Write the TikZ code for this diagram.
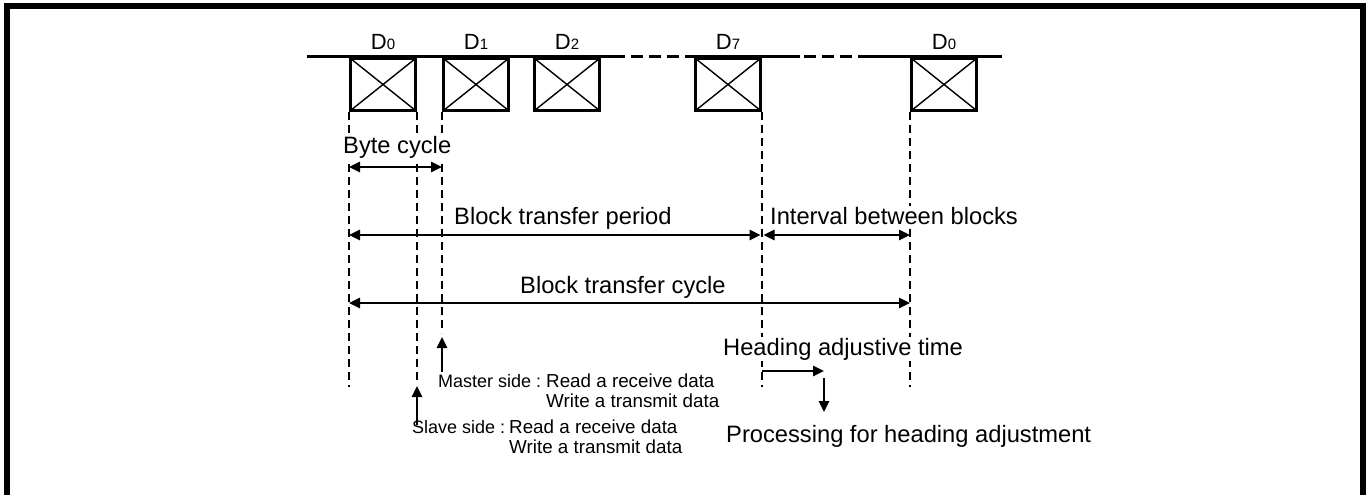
\documentclass[tikz,border=0pt]{standalone}
\usepackage{fontspec}
\setmainfont{Liberation Sans}
\usetikzlibrary{arrows.meta, positioning, calc}

\newcommand{\bigtxt}{\fontsize{23.7}{27}\selectfont}
\newcommand{\smalltxt}{\fontsize{18.8}{20}\selectfont}
\newcommand{\sidetxt}{\fontsize{18}{20}\selectfont}
\newcommand{\dname}[1]{{\fontsize{22}{22}\selectfont D\fontsize{15}{16}\selectfont #1}}

\begin{document}
\begin{tikzpicture}[x=1pt, y=1pt]
    \tikzset{
        byte/.style={rectangle, draw, line width=3pt, minimum width=65pt, minimum height=52pt, inner sep=0pt, anchor=north west,
            path picture={\draw[line width=1.4pt] (path picture bounding box.north west) -- (path picture bounding box.south east)
                (path picture bounding box.south west) -- (path picture bounding box.north east);}},
        dlabel/.style={anchor=base, inner sep=0pt},
        tline/.style={line width=3pt},
        tgap/.style={line width=3pt, dash pattern=on 12pt off 6pt},
        vline/.style={line width=1.4pt, dash pattern=on 8pt off 5pt},
        dim/.style={line width=2.5pt, {Triangle[length=11pt, width=10pt]}-{Triangle[length=11pt, width=10pt]}},
        arr/.style={line width=2.5pt, -{Triangle[length=11pt, width=10pt]}},
        lbl/.style={anchor=base west, inner sep=1pt, fill=white, font=\bigtxt},
        note/.style={anchor=base west, inner sep=0pt, font=\smalltxt}
    }
    \useasboundingbox (0,0) rectangle (1367,-495);
    \draw[line width=6pt] (6.5,-495) -- (6.5,-6) -- (1363,-6) -- (1363,-495);

    % time line
    \draw[tline] (307,-57) -- (625,-57);
    \draw[tgap] (631,-57) -- (690,-57);
    \draw[tline] (690,-57) -- (800,-57);
    \draw[tgap] (804,-57) -- (858,-57);
    \draw[tline] (858,-57) -- (1002,-57);

    \node[byte] (d0) at (349,-57) {};
    \node[byte] (d1) at (442,-57) {};
    \node[byte] (d2) at (533,-57) {};
    \node[byte] (d7) at (694,-57) {};
    \node[byte] (d0b) at (910,-57) {};

    \node[dlabel] (l0) at ($(d0.north)+(0,8)$) {\dname{0}};
    \node[dlabel] (l1) at ($(d1.north)+(0,8)$) {\dname{1}};
    \node[dlabel] (l2) at ($(d2.north)+(0,8)$) {\dname{2}};
    \node[dlabel] (l7) at ($(d7.north)+(0,8)$) {\dname{7}};
    \node[dlabel] (l0b) at ($(d0b.north)+(0,8)$) {\dname{0}};

    \coordinate (foot) at (0,-387);
    \coordinate (slvtip) at (d0.south east |- 0,-386);
    \coordinate (mstip) at (d1.south west |- 0,-337);

    \draw[vline] (d0.south west) -- (d0.south west |- foot);
    \draw[vline] (d0.south east) -- (d0.south east |- 0,-382);
    \draw[vline] (d1.south west) -- (d1.south west |- 0,-333);
    \draw[vline] (d7.south east) -- (d7.south east |- foot);
    \draw[vline] (d0b.south west) -- (d0b.south west |- foot);

    % dimensions
    \coordinate (byteY) at (0,-167);
    \coordinate (perY) at (0,-235);
    \coordinate (cycY) at (0,-303);
    \node[lbl] (bytelbl) at (342,-153) {Byte cycle};
    \draw[dim] (d0.south west |- byteY) -- (d1.south west |- byteY);
    \node[lbl] (perlbl) at (453,-224) {Block transfer period};
    \draw[dim] (d0.south west |- perY) -- ($(d7.south east |- perY)+(-1.5,0)$);
    \node[lbl] (intlbl) at (769,-224) {Interval between blocks};
    \draw[dim] ($(d7.south east |- perY)+(1.5,0)$) -- (d0b.south west |- perY);
    \node[lbl] (cyclbl) at (519,-293) {Block transfer cycle};
    \draw[dim] (d0.south west |- cycY) -- (d0b.south west |- cycY);

    % heading adjustment
    \node[lbl] (headlbl) at (722,-355) {Heading adjustive time};
    \coordinate (headend) at (824,-371);
    \draw[arr] (d7.south east |- headend) -- (headend);
    \node[lbl, fill=none] (proclbl) at (725,-442) {Processing for heading adjustment};
    \draw[arr] ($(headend)+(0,-7)$) -- (headend |- 0,-412);

    % master / slave
    \node[note, font=\sidetxt] (mslab) at (438,-387) {Master side :};
    \node[note] (mstxt) at (546,-387) {\begin{tabular}[t]{@{}l@{}}Read a receive data\\Write a transmit data\end{tabular}};
    \node[note, font=\sidetxt] (slvlab) at (412,-433) {Slave side :};
    \node[note] (slvtxt) at (509,-433) {\begin{tabular}[t]{@{}l@{}}Read a receive data\\Write a transmit data\end{tabular}};
    \draw[arr] (mstip |- 0,-372) -- (mstip);
    \draw[arr] (slvtip |- 0,-425) -- (slvtip);
\end{tikzpicture}
\end{document}
